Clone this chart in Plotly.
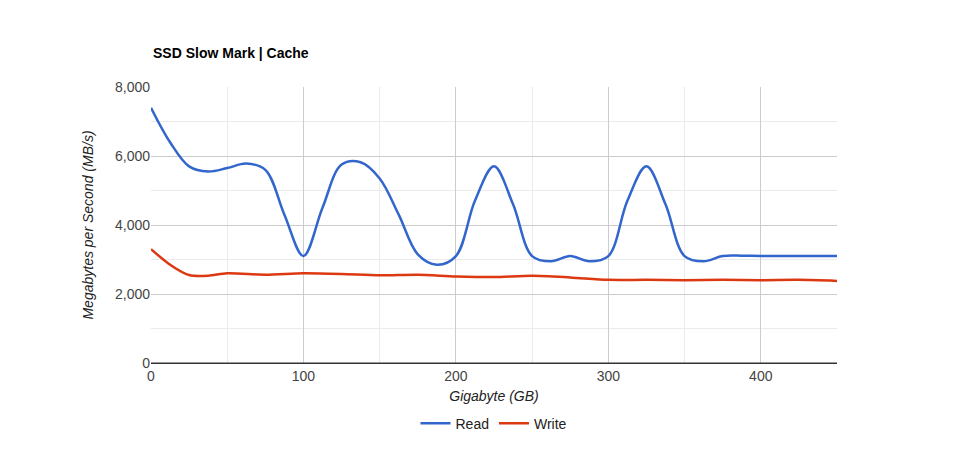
import plotly.graph_objects as go

read_x = [0,12.5,25,37.5,50,62.5,75,87.5,100,112.5,125,137.5,150,162.5,175,187.5,200,212.5,225,237.5,250,262.5,275,287.5,300,312.5,325,337.5,350,362.5,375,387.5,400,425,450]
read_y = [7400,6400,5700,5550,5650,5780,5600,4300,3100,4500,5750,5820,5350,4300,3150,2850,3100,4700,5700,4600,3100,2950,3100,2950,3100,4700,5700,4600,3100,2950,3100,3110,3100,3100,3100]
write_x = [0,12.5,25,37.5,50,75,100,125,150,175,200,225,250,275,300,325,350,375,400,425,450]
write_y = [3300,2850,2550,2530,2600,2560,2600,2580,2540,2560,2510,2490,2530,2480,2410,2410,2400,2410,2400,2410,2380]

fig = go.Figure()
fig.add_trace(go.Scatter(x=read_x, y=read_y, name="Read", mode="lines",
                         line=dict(color="#3366cc", width=2.5, shape="spline", smoothing=1.0)))
fig.add_trace(go.Scatter(x=write_x, y=write_y, name="Write", mode="lines",
                         line=dict(color="#dc3912", width=2.5, shape="spline", smoothing=0.8)))
fig.update_layout(
    width=964, height=462, plot_bgcolor="white", paper_bgcolor="white",
    margin=dict(l=143, r=135, t=79, b=107, autoexpand=False),
    font=dict(family="Arial, Liberation Sans", size=14, color="#444"),
    title=dict(text="<b>SSD Slow Mark | Cache</b>", x=145/964, xanchor="left", y=1-45/462, yanchor="middle",
               font=dict(size=14, color="#000")),
    legend=dict(orientation="h", x=0.5, xanchor="center", y=-0.22, yanchor="middle", font=dict(size=14, color="#222")),
    xaxis=dict(range=[0,450], dtick=100, showgrid=True, gridcolor="#cccccc", zeroline=False, automargin=False,
               showline=True, linecolor="#333", ticks="", tickfont=dict(color="#444"),
               minor=dict(dtick=50, showgrid=True, gridcolor="#ebebeb"),
               title=dict(text="<i>Gigabyte (GB)</i>", font=dict(size=14, color="#222"), standoff=8)),
    yaxis=dict(range=[0,8000], dtick=2000, tickformat=",", showgrid=True, gridcolor="#cccccc", zeroline=False,
               showline=False, ticks="", tickfont=dict(color="#444"), automargin=False,
               minor=dict(dtick=1000, showgrid=True, gridcolor="#ebebeb"),
               title=dict(text="<i>Megabytes per Second (MB/s)</i>", font=dict(size=14, color="#222"), standoff=18)),
)
fig.add_shape(type="line", xref="paper", yref="y", x0=0, x1=1, y0=0, y1=0, line=dict(color="#333", width=1))
fig.write_html("out.html")
